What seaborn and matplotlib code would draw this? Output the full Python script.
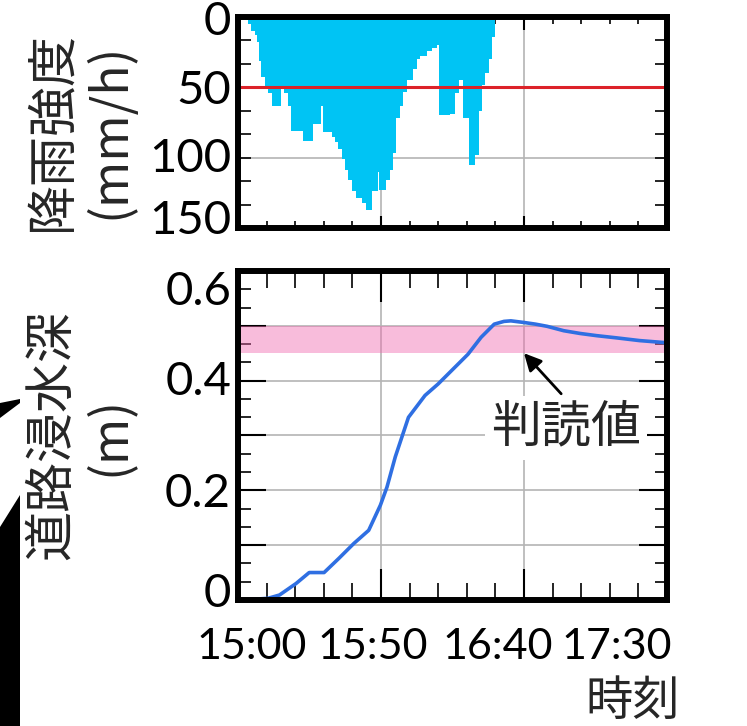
import matplotlib
matplotlib.use("Agg")
import matplotlib.pyplot as plt
import matplotlib.ticker as mticker
import matplotlib.transforms as mtransforms
from matplotlib.patches import Polygon
import numpy as np
import seaborn as sns

# rainfall intensity (mm/h), step value starting at each time (minutes after 15:00)
rain_start_min = [2.4, 3.4, 4.6, 5.8, 6.7, 7.5, 8.1, 9.3, 10.5, 11.9,
                  14.9, 16.1, 17.5, 18.6, 22.7, 26.2, 28.9, 29.7, 32.7, 33.8,
                  35.0, 36.2, 37.3, 38.5, 39.7, 41.4, 43.2, 44.9, 46.9, 48.8,
                  49.2, 51.9, 53.1, 54.3, 55.4, 56.6, 57.8, 59.0, 61.3, 62.5,
                  63.6, 66.0, 67.7, 69.5, 70.4, 74.1, 75.9, 77.4, 78.6, 80.6,
                  82.9, 84.1, 85.3, 86.4, 87.6, 88.7, 89.9, 90.5]
rain_mm_h = [2, 5, 10, 13, 18, 31, 43, 49, 54, 63,
             49, 54, 63, 81, 88, 76, 63, 82, 85, 89,
             94, 101, 109, 116, 124, 129, 132, 137, 124, 110,
             123, 116, 109, 97, 72, 63, 53, 45, 37, 30,
             28, 24, 22, 20, 70, 69, 54, 45, 72, 105,
             98, 67, 48, 40, 30, 14, 2, 0]
rain_threshold = 50

# road inundation depth (m)
depth_min = [1.8, 10.5, 14.5, 20.3, 24.9, 30.1, 35.3, 40.5, 45.7, 49.8,
             52.1, 55.0, 59.6, 65.4, 70.0, 75.2, 80.4, 85.0, 89.6, 93.0,
             95.4, 100.0, 104.0, 108.1, 113.9, 119.6, 125.4, 132.3, 140.4, 150.0]
depth_m = [0.0, 0.003, 0.009, 0.030, 0.050, 0.050, 0.076, 0.103, 0.127, 0.173,
           0.206, 0.261, 0.333, 0.373, 0.394, 0.421, 0.448, 0.479, 0.503, 0.508,
           0.509, 0.506, 0.503, 0.499, 0.491, 0.486, 0.482, 0.478, 0.473, 0.469]

band_low, band_high = 0.45, 0.50
read_time = 100  # 16:40

time_ticks = [0, 50, 100, 150]
time_labels = ["15:00", "15:50", "16:40", "17:30"]
rain_ticks = [0, 50, 100, 150]
depth_ticks = [0, 0.2, 0.4, 0.6]
depth_labels = ["0", "0.2", "0.4", "0.6"]

sns.set_theme(style="ticks")
plt.rcParams["font.family"] = ["Lato", "Noto Sans CJK JP", "DejaVu Sans"]
jp = ["Noto Sans CJK JP", "DejaVu Sans"]

fig = plt.figure(figsize=(7.47, 7.26), dpi=100)
ax_r = fig.add_axes([0.3186, 0.6860, 0.5743, 0.2906])
ax_d = fig.add_axes([0.3186, 0.1736, 0.5743, 0.4532])

grid_kw = dict(color="#b4b4b4", lw=1.2)

# --- rainfall
ax_r.fill_between(rain_start_min, rain_mm_h, 0, step="post",
                  color="#00c4f4", lw=0, zorder=2)
ax_r.axhline(rain_threshold, color="#dc2229", lw=2.2, zorder=3)
ax_r.set_xlim(0, 150)
ax_r.set_ylim(150, 0)
ax_r.set_xticks(time_ticks)
ax_r.set_yticks(rain_ticks, [str(v) for v in rain_ticks])
ax_r.xaxis.set_minor_locator(mticker.MultipleLocator(10))
ax_r.yaxis.set_minor_locator(mticker.MultipleLocator(50 / 3))
ax_r.grid(which="major", **grid_kw)
ax_r.set_axisbelow(True)
ax_r.tick_params(which="both", direction="in", top=True, right=True,
                 labelbottom=False, colors="black")
ax_r.tick_params(axis="x", which="minor", length=5, width=1.2)
ax_r.tick_params(axis="x", which="major", length=9, width=1.5)
ax_r.tick_params(axis="y", which="both", length=9, width=1.2,
                 labelsize=34, pad=5)
ax_r.set_ylabel("降雨強度\n(mm/h)", family=jp, fontsize=36, va="center",
                linespacing=1.15)
ax_r.yaxis.set_label_coords(-0.364, 0.46)

# --- inundation depth
grid_vals = np.round(np.arange(0, 0.61, 0.1), 2)
ax_d.axhspan(band_low, band_high, color="#f06cb0", alpha=0.45, lw=0, zorder=1)
sns.lineplot(x=depth_min, y=depth_m, ax=ax_d, color="#2f6fe2", lw=2.6, zorder=4)
ax_d.set_xlim(0, 150)
ax_d.set_ylim(0, 0.6)
ax_d.set_xticks(time_ticks, time_labels)
ytick_labels = [depth_labels[depth_ticks.index(v)] if v in depth_ticks else ""
                for v in [round(g, 1) for g in grid_vals]]
ax_d.set_yticks(grid_vals, ytick_labels)
ax_d.xaxis.set_minor_locator(mticker.MultipleLocator(10))
ax_d.yaxis.set_minor_locator(mticker.MultipleLocator(0.1 / 3))
ax_d.grid(which="major", **grid_kw)
ax_d.set_axisbelow(True)
ax_d.tick_params(which="both", direction="in", top=True, right=True, colors="black")
ax_d.tick_params(axis="x", which="minor", length=12, width=1.2)
ax_d.tick_params(axis="x", which="major", length=22, width=1.5, labelsize=31, pad=20)
ax_d.tick_params(axis="y", which="minor", length=9, width=1.2)
ax_d.tick_params(axis="y", which="major", length=20, width=1.5, labelsize=34, pad=5)
ax_d.set_ylabel("道路浸水深\n(m)", family=jp, fontsize=36, va="center",
                linespacing=1.15)
ax_d.yaxis.set_label_coords(-0.366, 0.50)
ax_d.set_xlabel("時刻", family=jp, fontsize=34, ha="right", va="center")
ax_d.xaxis.set_label_coords(1.03, -0.31)

ax_d.annotate("", xy=(read_time, band_low), xytext=(113, 0.376),
              arrowprops=dict(arrowstyle="-|>", color="black", lw=2,
                              mutation_scale=26, shrinkA=0, shrinkB=0),
              zorder=6)
ax_d.text(114.8, 0.3145, "判読値", family=jp, fontsize=36, ha="center",
          va="center", zorder=6,
          bbox=dict(boxstyle="square,pad=0.12", fc="white", ec="none"))

for ax in (ax_r, ax_d):
    for s in ax.spines.values():
        s.set_linewidth(4.3)
        s.set_color("black")
        s.set_capstyle("projecting")
        s.set_zorder(5)

# black fragment of neighbouring photo at the left edge
def px(pts):
    return [(x / 747, 1 - y / 726) for x, y in pts]

fig.patches.append(Polygon(px([(0, 403), (20, 399), (20, 403), (0, 418)]),
                           closed=True, transform=fig.transFigure,
                           fc="black", ec="none"))
fig.patches.append(Polygon(px([(0, 527), (20, 495), (20, 726), (0, 726)]),
                           closed=True, transform=fig.transFigure,
                           fc="black", ec="none"))

# tick labels in the original sit a little closer together than the ticks
fig.canvas.draw()


def shift(labels, dx_pt, dy_pt):
    for lab, dx, dy in zip(labels, dx_pt, dy_pt):
        lab.set_transform(lab.get_transform()
                          + mtransforms.ScaledTranslation(dx / 72, dy / 72,
                                                          fig.dpi_scale_trans))


shift(ax_d.get_xticklabels(), [10, -6, -19, -36], [0, 0, 0, 0])
shift(ax_r.get_yticklabels(), [0, 0, 0, 0], [-1, 0, 2, 8])
shift(ax_d.get_yticklabels(), [0] * 7, [7, 0, 0, 0, 2, 0, -12])

fig.savefig("out.png", dpi=100)
